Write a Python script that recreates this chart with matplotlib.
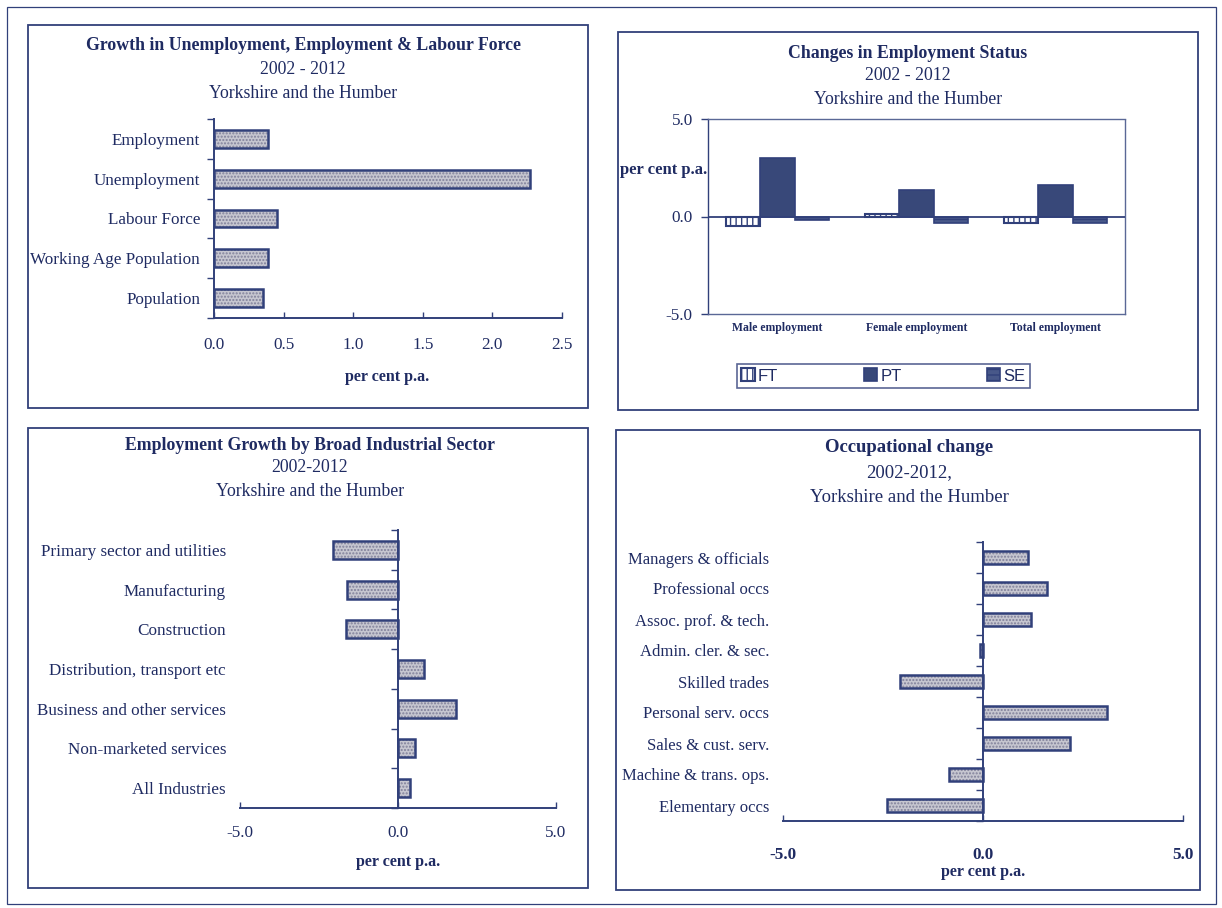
import matplotlib
matplotlib.use('Agg')
import matplotlib.pyplot as plt
from matplotlib.patches import Rectangle, Patch
from matplotlib.ticker import FormatStrFormatter
import numpy as np

# ---- data -------------------------------------------------------------
labour_categories = ['Employment', 'Unemployment', 'Labour Force',
                     'Working Age Population', 'Population']
labour_growth = [0.39, 2.27, 0.45, 0.39, 0.35]

status_groups = ['Male employment', 'Female employment', 'Total employment']
status_series = ['FT', 'PT', 'SE']
ft_growth = [-0.48, 0.15, -0.31]
pt_growth = [2.98, 1.35, 1.64]
se_growth = [-0.19, -0.31, -0.34]

sector_categories = ['Primary sector and utilities', 'Manufacturing', 'Construction',
                     'Distribution, transport etc', 'Business and other services',
                     'Non-marketed services', 'All Industries']
sector_growth = [-2.06, -1.60, -1.63, 0.83, 1.84, 0.55, 0.39]

occupation_categories = ['Managers & officials', 'Professional occs',
                         'Assoc. prof. & tech.', 'Admin. cler. & sec.',
                         'Skilled trades', 'Personal serv. occs',
                         'Sales & cust. serv.', 'Machine & trans. ops.',
                         'Elementary occs']
occupation_growth = [1.13, 1.61, 1.21, -0.08, -2.08, 3.10, 2.17, -0.86, -2.39]

# ---- style ------------------------------------------------------------
W, H = 1222, 908
NAVY = '#31407a'
TEXT = '#1f2b62'
FILL = '#c6c6d0'
DOTS = '#80809a'
SERIF = ['Liberation Serif', 'DejaVu Serif']
SANS = ['Liberation Sans', 'DejaVu Sans']

plt.rcParams['font.family'] = SERIF
plt.rcParams['text.color'] = TEXT
plt.rcParams['xtick.color'] = NAVY
plt.rcParams['ytick.color'] = NAVY
plt.rcParams['xtick.labelcolor'] = TEXT
plt.rcParams['ytick.labelcolor'] = TEXT
plt.rcParams['hatch.linewidth'] = 1.0

fig = plt.figure(figsize=(W / 100, H / 100), dpi=100)
fig.patch.set_facecolor('white')

# page layer in pixel coordinates (y downwards)
bg = fig.add_axes([0, 0, 1, 1])
bg.set_xlim(0, W)
bg.set_ylim(H, 0)
bg.axis('off')


def px_axes(x0, y0, x1, y1):
    ax = fig.add_axes([x0 / W, 1 - y1 / H, (x1 - x0) / W, (y1 - y0) / H])
    ax.set_facecolor('none')
    return ax


def box(x0, y0, x1, y1, lw=1.3):
    bg.add_patch(Rectangle((x0, y0), x1 - x0, y1 - y0, fill=False,
                           edgecolor=NAVY, linewidth=lw))


def titles(xc, lines, ys, size=12.8):
    for i, (txt, y) in enumerate(zip(lines, ys)):
        bg.text(xc, y, txt, ha='center', va='center', fontsize=size,
                fontweight='bold' if i == 0 else 'normal', color=TEXT)


def unit_label(xc, y):
    bg.text(xc, y, 'per cent p.a.', ha='center', va='center', fontsize=11.5,
            fontweight='bold', color=TEXT)


# outer page frame and panel frames
box(7, 7, 1216, 904, lw=0.9)
box(28, 25, 588, 408)
box(618, 32, 1198, 410)
box(28, 428, 588, 888)
box(616, 430, 1200, 890)

titles(303, ['Growth in Unemployment, Employment & Labour Force',
             '2002 - 2012', 'Yorkshire and the Humber'], [46, 70, 93])
titles(908, ['Changes in Employment Status', '2002 - 2012',
             'Yorkshire and the Humber'], [53, 75, 99])
titles(310, ['Employment Growth by Broad Industrial Sector', '2002-2012',
             'Yorkshire and the Humber'], [446, 468, 492])
titles(909, ['Occupational change', '2002-2012,',
             'Yorkshire and the Humber'], [448, 473, 497], size=13.5)

unit_label(387, 377)
unit_label(398, 862)
unit_label(983, 872)
bg.text(664, 170, 'per cent p.a.', ha='center', va='center', fontsize=12,
        fontweight='bold', color=TEXT)


def hbar_panel(ax, cats, vals, xlim, xticks, height, zero_axis, xpad,
               tick_weight, label_size=12.3):
    n = len(cats)
    pos = np.arange(n)
    ax.barh(pos, vals, height=height, color=FILL, edgecolor=DOTS,
            hatch='.....', linewidth=0, zorder=2)
    ax.barh(pos, vals, height=height, fill=False, edgecolor=NAVY,
            linewidth=1.8, zorder=3)
    ax.set_ylim(n - 0.5, -0.5)
    ax.set_xlim(*xlim)
    ax.set_yticks(pos, cats)
    ax.set_yticks(np.arange(n + 1) - 0.5, minor=True)
    ax.set_xticks(xticks)
    ax.xaxis.set_major_formatter(FormatStrFormatter('%.1f'))
    ax.tick_params(axis='x', direction='in', length=4, width=1,
                   labelsize=12.3, pad=xpad)
    for lab in ax.get_xticklabels():
        lab.set_fontweight(tick_weight)
    ax.tick_params(axis='y', which='major', length=0, labelsize=label_size, pad=10)
    ax.spines['top'].set_visible(False)
    ax.spines['bottom'].set_color(NAVY)
    ax.spines['bottom'].set_linewidth(1.4)
    if zero_axis:
        # category axis crosses at zero, labels stay at the low end
        ax.spines['left'].set_visible(False)
        ax.spines['right'].set_position(('data', 0))
        ax.spines['right'].set_color(NAVY)
        ax.spines['right'].set_linewidth(1.4)
        ax.tick_params(axis='y', which='minor', left=False, right=True,
                       direction='in', length=5, width=1)
    else:
        ax.spines['right'].set_visible(False)
        ax.spines['left'].set_color(NAVY)
        ax.spines['left'].set_linewidth(1.4)
        ax.tick_params(axis='y', which='minor', left=True, direction='out',
                       length=5, width=1)


# panel 1
ax1 = px_axes(214, 119, 562, 318)
hbar_panel(ax1, labour_categories, labour_growth, (0, 2.5),
           [0, 0.5, 1.0, 1.5, 2.0, 2.5], 0.45, zero_axis=False,
           xpad=14, tick_weight='normal')

# panel 3
ax3 = px_axes(240, 530, 556, 808)
hbar_panel(ax3, sector_categories, sector_growth, (-5, 5), [-5, 0, 5],
           0.45, zero_axis=True, xpad=12, tick_weight='normal')

# panel 4
ax4 = px_axes(783, 542, 1183, 821)
hbar_panel(ax4, occupation_categories, occupation_growth, (-5, 5), [-5, 0, 5],
           0.42, zero_axis=True, xpad=19, tick_weight='bold', label_size=12)

# panel 2: clustered columns
ax2 = px_axes(708, 119, 1125, 314)
x = np.arange(len(status_groups))
w = 0.245
styles = [
    dict(facecolor='white', edgecolor=NAVY, hatch='|||', linewidth=1.5),
    dict(facecolor='#384879', edgecolor=NAVY, linewidth=1.2),
    dict(facecolor='#485889', edgecolor=NAVY, hatch='---', linewidth=1.2),
]
for i, (vals, st) in enumerate(zip([ft_growth, pt_growth, se_growth], styles)):
    ax2.bar(x + (i - 1) * w, vals, width=w, zorder=3, **st)
ax2.axhline(0, color=NAVY, linewidth=1.3, zorder=4)
ax2.set_xlim(-0.5, len(status_groups) - 0.5)
ax2.set_ylim(-5, 5)
ax2.set_yticks([-5, 0, 5])
ax2.yaxis.set_major_formatter(FormatStrFormatter('%.1f'))
ax2.set_xticks(x, status_groups)
ax2.tick_params(axis='x', length=0, labelsize=8.5, pad=6)
for lab in ax2.get_xticklabels():
    lab.set_fontweight('bold')
ax2.tick_params(axis='y', direction='out', length=5, width=1, labelsize=12.3, pad=6)
for sp in ax2.spines.values():
    sp.set_color('#5a6896')
    sp.set_linewidth(1.0)
    sp.set_linestyle((0, (2, 1)))
ax2.spines['left'].set_linestyle('-')
ax2.spines['left'].set_color(NAVY)

handles = [Patch(label=lab, **st) for lab, st in zip(status_series, styles)]
leg = fig.legend(handles=handles, loc='center', ncol=3, mode='expand',
                 bbox_to_anchor=(737 / W, 1 - 388 / H, (1030 - 737) / W, 24 / H),
                 frameon=True, fancybox=False, edgecolor=NAVY,
                 prop={'family': SANS, 'size': 12},
                 handlelength=0.8, handleheight=0.8, handletextpad=0.2,
                 borderpad=0.25, borderaxespad=0)
leg.get_frame().set_linewidth(1.2)
for t in leg.get_texts():
    t.set_color(TEXT)

fig.savefig('out.png', dpi=100, facecolor='white')
